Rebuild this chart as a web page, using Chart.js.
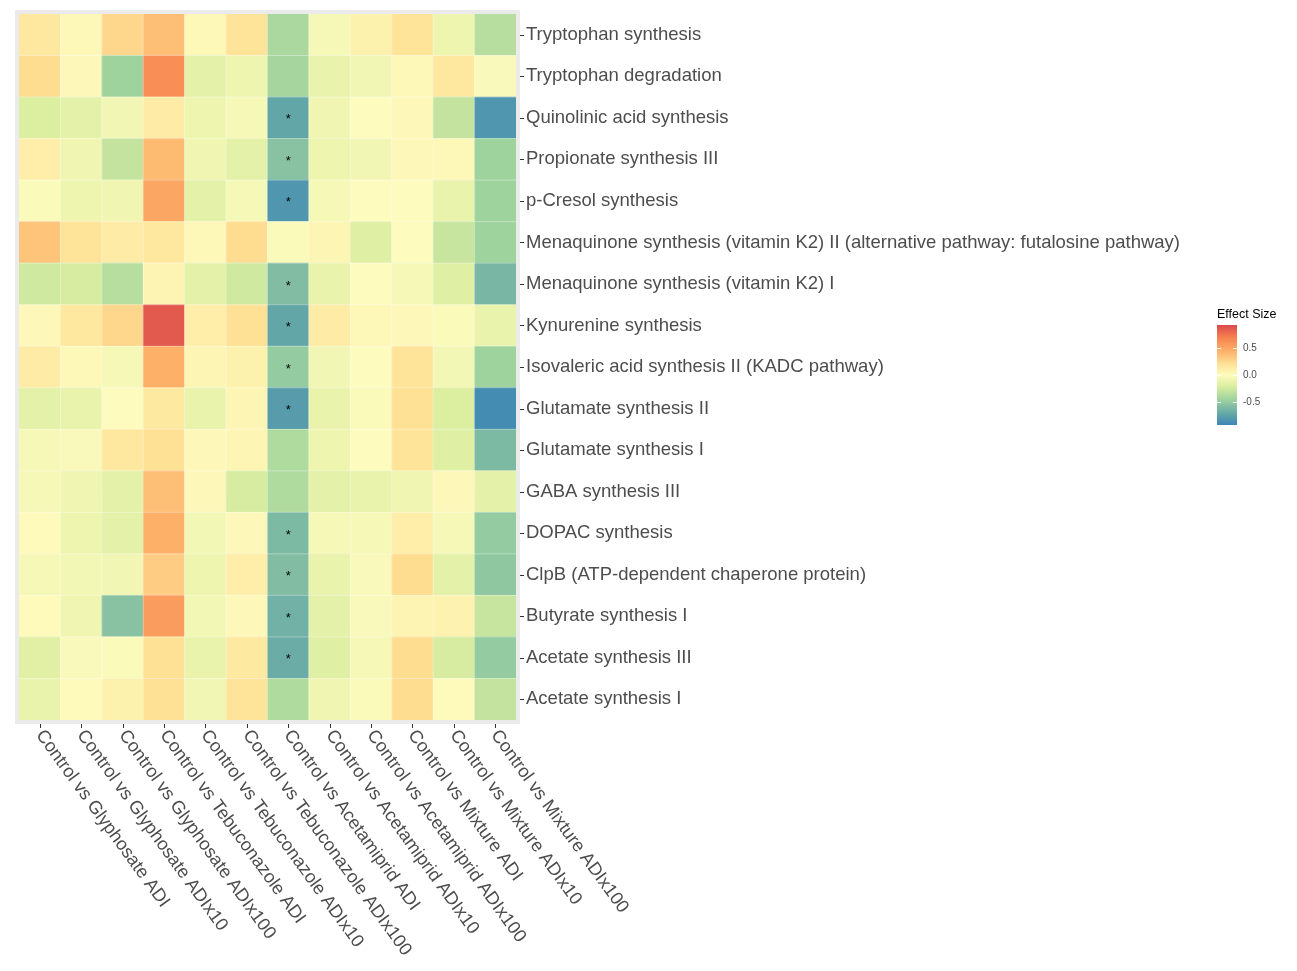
<!DOCTYPE html>
<html>
<head>
<meta charset="utf-8">
<script src="https://cdn.jsdelivr.net/npm/chart.js@4.4.1/dist/chart.umd.min.js"></script>
<style>
  html, body { margin: 0; padding: 0; background: #fff; }
  #wrap { width: 1297px; height: 971px; }
</style>
</head>
<body>
<div id="wrap"><canvas id="heat"></canvas></div>
<script>
// columns (left to right)
const comparisons = [
    "Control vs Glyphosate ADI", "Control vs Glyphosate ADIx10", "Control vs Glyphosate ADIx100",
    "Control vs Tebuconazole ADI", "Control vs Tebuconazole ADIx10", "Control vs Tebuconazole ADIx100",
    "Control vs Acetamiprid ADI", "Control vs Acetamiprid ADIx10", "Control vs Acetamiprid ADIx100",
    "Control vs Mixture ADI", "Control vs Mixture ADIx10", "Control vs Mixture ADIx100"
];

// rows (top to bottom)
const pathways = [
    "Tryptophan synthesis",
    "Tryptophan degradation",
    "Quinolinic acid synthesis",
    "Propionate synthesis III",
    "p-Cresol synthesis",
    "Menaquinone synthesis (vitamin K2) II (alternative pathway: futalosine pathway)",
    "Menaquinone synthesis (vitamin K2) I",
    "Kynurenine synthesis",
    "Isovaleric acid synthesis II (KADC pathway)",
    "Glutamate synthesis II",
    "Glutamate synthesis I",
    "GABA synthesis III",
    "DOPAC synthesis",
    "ClpB (ATP-dependent chaperone protein)",
    "Butyrate synthesis I",
    "Acetate synthesis III",
    "Acetate synthesis I"
];

// effect size, one row per pathway, one value per comparison
const effectSize = [
    [ 0.15,  0.03,  0.25,  0.38,  0.03,  0.18, -0.40, -0.05,  0.08,  0.18, -0.10, -0.35],
    [ 0.22,  0.02, -0.45,  0.62, -0.15, -0.10, -0.42, -0.12, -0.07,  0.03,  0.15, -0.03],
    [-0.20, -0.15, -0.07,  0.12, -0.10, -0.05, -0.72, -0.08,  0.00,  0.02, -0.30, -0.82],
    [ 0.10, -0.08, -0.30,  0.40, -0.08, -0.15, -0.55, -0.10, -0.07,  0.02,  0.03, -0.45],
    [-0.02, -0.10, -0.08,  0.50, -0.15, -0.05, -0.82, -0.05,  0.00,  0.00, -0.12, -0.45],
    [ 0.35,  0.18,  0.12,  0.15,  0.03,  0.22, -0.02,  0.05, -0.18,  0.00, -0.28, -0.45],
    [-0.25, -0.22, -0.35,  0.06, -0.15, -0.25, -0.58, -0.12,  0.00, -0.05, -0.18, -0.62],
    [ 0.02,  0.15,  0.25,  0.85,  0.10,  0.20, -0.72,  0.12,  0.03,  0.02, -0.02, -0.12],
    [ 0.12,  0.03, -0.05,  0.45,  0.05,  0.08, -0.50, -0.07,  0.00,  0.18, -0.06, -0.45],
    [-0.15, -0.12,  0.00,  0.14, -0.12,  0.05, -0.78, -0.12, -0.02,  0.20, -0.20, -0.88],
    [-0.04, -0.03,  0.15,  0.20,  0.02,  0.05, -0.38, -0.10,  0.00,  0.18, -0.18, -0.60],
    [-0.05, -0.08, -0.15,  0.38,  0.02, -0.22, -0.38, -0.15, -0.12, -0.08,  0.02, -0.15],
    [ 0.01, -0.10, -0.15,  0.45, -0.06,  0.02, -0.60, -0.05, -0.05,  0.10, -0.04, -0.50],
    [-0.04, -0.06, -0.07,  0.30, -0.10,  0.10, -0.58, -0.12, -0.03,  0.22, -0.15, -0.52],
    [ 0.01, -0.08, -0.55,  0.55, -0.06,  0.02, -0.65, -0.15, -0.03,  0.06,  0.07, -0.28],
    [-0.17, -0.03, -0.02,  0.20, -0.12,  0.14, -0.68, -0.18, -0.04,  0.22, -0.22, -0.50],
    [-0.12,  0.01,  0.08,  0.20, -0.07,  0.18, -0.38, -0.08, -0.02,  0.22,  0.01, -0.30]
];

// cells marked "*" as [pathway index, comparison index]
const significant = [
    [2, 6], [3, 6], [4, 6], [6, 6], [7, 6], [8, 6],
    [9, 6], [12, 6], [13, 6], [14, 6], [15, 6]
];

const legendTicks = [0.5, 0.0, -0.5];
const limits = [-0.92, 0.92];

// colour ramp (Spectral-like)
const stopValues = [-0.92, -0.7, -0.45, -0.2, 0, 0.2, 0.45, 0.68, 0.92];
const stopColors = ["#3d86b6", "#67a9a7", "#9fd39e", "#dceea0", "#fdfbbe",
                    "#fee195", "#fdb068", "#f7834f", "#d9494d"];

function hexToRgb(h) {
    return [parseInt(h.substr(1, 2), 16), parseInt(h.substr(3, 2), 16), parseInt(h.substr(5, 2), 16)];
}

function colorFor(v) {
    v = Math.max(stopValues[0], Math.min(stopValues[stopValues.length - 1], v));
    let i = 0;
    while (i < stopValues.length - 2 && v > stopValues[i + 1]) i++;
    const t = (v - stopValues[i]) / (stopValues[i + 1] - stopValues[i]);
    const a = hexToRgb(stopColors[i]), b = hexToRgb(stopColors[i + 1]);
    const c = a.map((x, k) => Math.round(x + (b[k] - x) * t));
    return `rgb(${c[0]},${c[1]},${c[2]})`;
}

const nRows = pathways.length;

// stacked bars: dataset 0 is the bottom row
const datasets = effectSize.slice().reverse().map((vals, k) => ({
    label: pathways[nRows - 1 - k],
    data: vals.map(() => 1),
    backgroundColor: vals.map(colorFor),
    borderWidth: 0,
    barPercentage: 1,
    categoryPercentage: 1
}));

const textColor = "#4d4d4d";
const fontFamily = "'Liberation Sans', Arial, sans-serif";

const heatDecor = {
    id: "heatDecor",
    beforeDraw(chart) {
        const { ctx, chartArea: a } = chart;
        ctx.save();
        ctx.fillStyle = "#ebebeb";
        ctx.fillRect(a.left - 4, a.top - 4, a.right - a.left + 8, a.bottom - a.top + 8);
        ctx.restore();
    },
    afterDatasetsDraw(chart) {
        const { ctx, scales } = chart;
        const a = chart.chartArea;
        ctx.save();
        // faint cell borders
        ctx.strokeStyle = "rgba(255,255,255,0.35)";
        ctx.lineWidth = 1;
        for (let c = 1; c < comparisons.length; c++) {
            const x = (scales.x.getPixelForValue(c - 1) + scales.x.getPixelForValue(c)) / 2;
            ctx.beginPath(); ctx.moveTo(x, a.top); ctx.lineTo(x, a.bottom); ctx.stroke();
        }
        for (let r = 1; r < nRows; r++) {
            const y = scales.y.getPixelForValue(r);
            ctx.beginPath(); ctx.moveTo(a.left, y); ctx.lineTo(a.right, y); ctx.stroke();
        }
        ctx.fillStyle = "#000";
        ctx.font = "13px " + fontFamily;
        ctx.textAlign = "center";
        ctx.textBaseline = "middle";
        significant.forEach(([r, c]) => {
            const x = scales.x.getPixelForValue(c);
            const y = scales.y.getPixelForValue(nRows - r - 0.5);
            ctx.fillText("*", x, y + 2);
        });
        ctx.restore();
    },
    afterDraw(chart) {
        const { ctx, scales, chartArea: a } = chart;
        ctx.save();
        ctx.strokeStyle = "#333";
        ctx.lineWidth = 1;
        // y tick marks
        for (let r = 0; r < nRows; r++) {
            const y = Math.round(scales.y.getPixelForValue(r + 0.5)) + 0.5;
            ctx.beginPath(); ctx.moveTo(a.right + 4, y); ctx.lineTo(a.right + 8, y); ctx.stroke();
        }
        // x tick marks and rotated labels
        ctx.fillStyle = textColor;
        ctx.font = "18.2px " + fontFamily;
        ctx.textAlign = "left";
        ctx.textBaseline = "middle";
        comparisons.forEach((lab, c) => {
            const x = Math.round(scales.x.getPixelForValue(c)) + 0.5;
            ctx.beginPath(); ctx.moveTo(x, a.bottom + 4); ctx.lineTo(x, a.bottom + 8); ctx.stroke();
            ctx.save();
            ctx.translate(x - 1, a.bottom + 12);
            ctx.rotate(54 * Math.PI / 180);
            ctx.fillText(lab, 0, 0);
            ctx.restore();
        });

        // colour bar legend
        const bx = 1217, bw = 20, top = 325, bot = 425;
        const yFor = v => top + (limits[1] - v) / (limits[1] - limits[0]) * (bot - top);
        for (let y = top; y < bot; y++) {
            const v = limits[1] - (y - top + 0.5) / (bot - top) * (limits[1] - limits[0]);
            ctx.fillStyle = colorFor(v);
            ctx.fillRect(bx, y, bw, 1);
        }
        ctx.strokeStyle = "#fff";
        legendTicks.forEach(v => {
            const y = Math.round(yFor(v)) + 0.5;
            ctx.beginPath(); ctx.moveTo(bx, y); ctx.lineTo(bx + 4, y); ctx.stroke();
            ctx.beginPath(); ctx.moveTo(bx + bw - 4, y); ctx.lineTo(bx + bw, y); ctx.stroke();
        });
        ctx.fillStyle = "#000";
        ctx.font = "12.5px " + fontFamily;
        ctx.textBaseline = "alphabetic";
        ctx.fillText("Effect Size", 1217, 318);
        ctx.fillStyle = textColor;
        ctx.font = "10px " + fontFamily;
        ctx.textBaseline = "middle";
        legendTicks.forEach(v => ctx.fillText(v.toFixed(1), 1243, yFor(v)));
        ctx.restore();
    }
};

new Chart(document.getElementById("heat"), {
    type: "bar",
    data: { labels: comparisons, datasets: datasets },
    options: {
        responsive: true,
        maintainAspectRatio: false,
        animation: false,
        devicePixelRatio: 1,
        layout: { padding: { left: 19, top: 14, right: 0, bottom: 0 } },
        plugins: { legend: { display: false }, tooltip: { enabled: false } },
        scales: {
            x: {
                stacked: true,
                ticks: { display: false },
                grid: { display: false },
                border: { display: false },
                afterFit: scale => { scale.height = 251; }
            },
            y: {
                stacked: true,
                position: "right",
                min: 0,
                max: nRows,
                afterBuildTicks: scale => {
                    scale.ticks = pathways.map((p, i) => ({ value: i + 0.5 }));
                },
                ticks: {
                    autoSkip: false,
                    padding: 10,
                    color: textColor,
                    font: { family: fontFamily, size: 18.5 },
                    callback: (value) => pathways[nRows - 1 - Math.floor(value)]
                },
                grid: { display: true, drawOnChartArea: false, drawTicks: false },
                border: { display: false },
                afterFit: scale => {
                    scale.width = 781;
                    scale.paddingTop = 0;
                    scale.paddingBottom = 0;
                }
            }
        }
    },
    plugins: [heatDecor]
});
</script>
</body>
</html>
